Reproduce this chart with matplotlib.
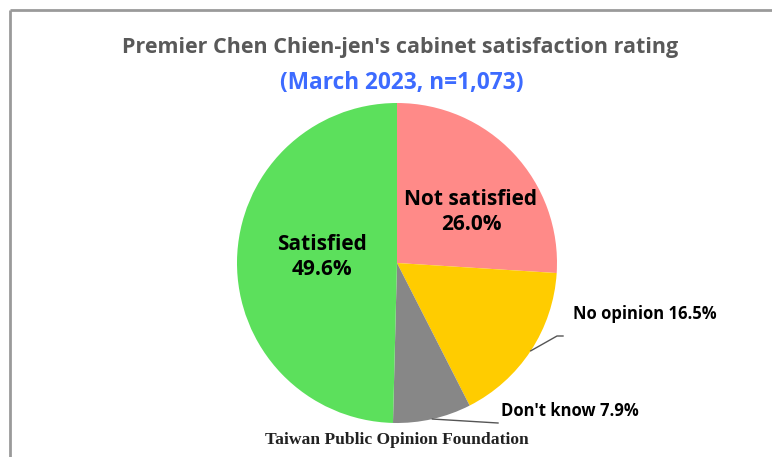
import numpy as np
import matplotlib.pyplot as plt

# Data
labels = ['Not satisfied', 'No opinion', "Don't know", 'Satisfied']
values = [26.0, 16.5, 7.9, 49.6]
colors = ['#FF8A88', '#FFCC00', '#878787', '#5CE05C']

W, H = 772, 457
fig = plt.figure(figsize=(W / 100, H / 100), dpi=100)
ax = fig.add_axes([0, 0, 1, 1])

# pie geometry in pixel units (y measured from bottom)
cx, cy, r = 397, H - 263, 160
wedges, _ = ax.pie(values, colors=colors, startangle=90, counterclock=False,
                   center=(cx, cy), radius=r, frame=True,
                   wedgeprops=dict(linewidth=0))
ax.set_xlim(0, W)
ax.set_ylim(0, H)
ax.set_aspect('equal')
ax.axis('off')

# frame (cropped at right / bottom)
ax.plot([10, 10], [0, H - 10], color='#9a9a9a', lw=2, solid_capstyle='butt')
ax.plot([10, W], [H - 10, H - 10], color='#9a9a9a', lw=2, solid_capstyle='butt')

font = ['Open Sans', 'DejaVu Sans']

# titles
ax.text(cx + 3, H - 48, "Premier Chen Chien-jen's cabinet satisfaction rating",
        ha='center', va='center', fontsize=15.5, fontweight='bold',
        color='#595959', family=font)
ax.text(cx + 5, H - 83, '(March 2023, n=1,073)', ha='center', va='center',
        fontsize=16.3, fontweight='bold', color='#3D6BFF', family=font)

# inside labels
ax.text(322, H - 257, f'{labels[3]}\n{values[3]:.1f}%', ha='center', va='center',
        fontsize=15, fontweight='bold', color='black', family=font,
        linespacing=1.3)
ax.text(471, H - 212, f'{labels[0]}\n{values[0]:.1f}%', ha='center', va='center',
        fontsize=15, fontweight='bold', color='black', family=font,
        linespacing=1.3)

# outside labels with leader lines
def mid_angle(i):
    start = 90 - sum(values[:i]) * 3.6
    return np.deg2rad(start - values[i] * 1.8)

a = mid_angle(1)
ex, ey = cx + r * np.cos(a), cy + r * np.sin(a)
ax.plot([ex, 557, 563], [ey, H - 336, H - 336], color='#555555', lw=1)
ax.text(573, H - 314, f'{labels[1]} {values[1]:.1f}%', ha='left', va='center',
        fontsize=12, fontweight='bold', color='black', family=font)

a = mid_angle(2)
ex, ey = cx + r * np.cos(a), cy + r * np.sin(a)
ax.plot([ex, 498], [ey, H - 423], color='#555555', lw=1)
ax.text(501, H - 411, f'{labels[2]} {values[2]:.1f}%', ha='left', va='center',
        fontsize=12, fontweight='bold', color='black', family=font)

# source
ax.text(cx, H - 440, 'Taiwan Public Opinion Foundation', ha='center', va='center',
        fontsize=12.6, fontweight='bold', color='#222222', family='Liberation Serif')

fig.savefig('out.png', dpi=100)
